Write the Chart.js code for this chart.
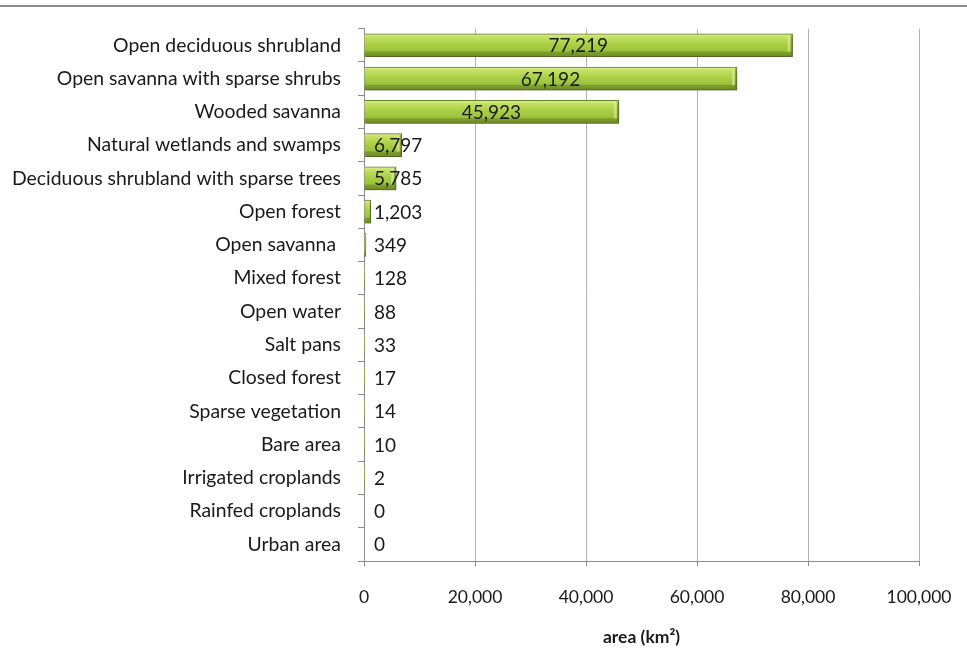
<!DOCTYPE html>
<html>
<head>
<meta charset="utf-8">
<script src="https://cdn.jsdelivr.net/npm/chart.js@4.4.1/dist/chart.umd.min.js"></script>
<style>
  html, body { margin: 0; padding: 0; background: #fff; }
  #wrap { position: relative; width: 967px; height: 650px; }
  #linea { position: absolute; left: 0; top: 5px; width: 967px; height: 2px; background: #8c8c8c; }
  #grafico { position: absolute; left: 0; top: 0; }
</style>
</head>
<body>
<div id="wrap">
  <div id="linea"></div>
  <canvas id="grafico" width="967" height="650"></canvas>
</div>
<script>
const coberturas = [
    'Open deciduous shrubland',
    'Open savanna with sparse shrubs',
    'Wooded savanna',
    'Natural wetlands and swamps',
    'Deciduous shrubland with sparse trees',
    'Open forest',
    'Open savanna ',
    'Mixed forest',
    'Open water',
    'Salt pans',
    'Closed forest',
    'Sparse vegetation',
    'Bare area',
    'Irrigated croplands',
    'Rainfed croplands',
    'Urban area'
];
const areas = [77219, 67192, 45923, 6797, 5785, 1203, 349, 128, 88, 33, 17, 14, 10, 2, 0, 0];
const ticksArea = [0, 20000, 40000, 60000, 80000, 100000];

const fuente = 'Lato, "Open Sans", sans-serif';
const GROSOR = 23;

// degradado verde de cada barra, de arriba hacia abajo
function colorBarra(context) {
    const chart = context.chart;
    const y = chart.scales.y;
    const yc = y ? y.getPixelForValue(context.dataIndex) : NaN;
    if (!Number.isFinite(yc)) return '#a8cc44';
    const g = chart.ctx.createLinearGradient(0, yc - GROSOR / 2, 0, yc + GROSOR / 2);
    g.addColorStop(0, '#e2f2a8');
    g.addColorStop(0.12, '#c6e266');
    g.addColorStop(0.45, '#abcf46');
    g.addColorStop(0.74, '#9cc23c');
    g.addColorStop(0.8, '#809f2e');
    g.addColorStop(1, '#6c8c24');
    return g;
}

// sombra suave bajo las barras
const sombra = {
    id: 'sombra',
    beforeDatasetsDraw(chart) {
        const ctx = chart.ctx;
        ctx.save();
        ctx.shadowColor = 'rgba(0,0,0,0.3)';
        ctx.shadowBlur = 4;
        ctx.shadowOffsetX = 2;
        ctx.shadowOffsetY = 2;
    },
    afterDatasetsDraw(chart) {
        chart.ctx.restore();
        // bisel claro en el extremo derecho de cada barra
        const ctx = chart.ctx;
        const x0 = chart.scales.x.getPixelForValue(0);
        ctx.save();
        chart.getDatasetMeta(0).data.forEach((bar) => {
            if (bar.x - x0 < 8) return;
            const top = bar.y - GROSOR / 2;
            ctx.fillStyle = 'rgba(225,242,160,0.55)';
            ctx.fillRect(bar.x - 5, top + 2, 3, GROSOR - 7);
            ctx.fillStyle = 'rgba(90,115,25,0.5)';
            ctx.fillRect(bar.x - 2, top + 1, 1.5, GROSOR - 2);
        });
        ctx.restore();
    }
};

// etiquetas de valor: centradas en la barra, o pegadas al eje si no caben
const etiquetas = {
    id: 'etiquetas',
    afterDraw(chart) {
        const ctx = chart.ctx;
        const meta = chart.getDatasetMeta(0);
        const x0 = chart.scales.x.getPixelForValue(0);
        ctx.save();
        ctx.font = '19px ' + fuente;
        ctx.fillStyle = '#1a1a1a';
        ctx.textAlign = 'center';
        ctx.textBaseline = 'middle';
        meta.data.forEach((bar, i) => {
            const txt = areas[i].toLocaleString('en-US');
            const w = ctx.measureText(txt).width;
            const centro = (x0 + bar.x) / 2;
            const x = Math.max(centro, x0 + 10 + w / 2);
            ctx.fillText(txt, x, bar.y + 1);
        });
        ctx.restore();
    }
};

new Chart(document.getElementById('grafico'), {
    type: 'bar',
    data: {
        labels: coberturas,
        datasets: [{
            data: areas,
            backgroundColor: colorBarra,
            borderColor: '#68882a',
            borderWidth: 1,
            borderSkipped: 'start',
            barThickness: GROSOR
        }]
    },
    options: {
        indexAxis: 'y',
        responsive: false,
        animation: false,
        layout: { padding: { top: 28, right: 48, left: 0, bottom: 0 } },
        plugins: {
            legend: { display: false },
            tooltip: { enabled: false }
        },
        scales: {
            x: {
                min: 0,
                max: 100000,
                afterBuildTicks: (scale) => { scale.ticks = ticksArea.map(v => ({ value: v })); },
                afterFit: (scale) => {
                    scale.height = 89;
                    scale.paddingLeft = 0;
                    scale.paddingRight = 0;
                },
                ticks: {
                    font: { family: fuente, size: 17.5 },
                    color: '#1a1a1a',
                    padding: 21,
                    maxRotation: 0,
                    callback: (v) => v.toLocaleString('en-US')
                },
                grid: { color: '#b4b4b4', lineWidth: 1, tickLength: 5, tickColor: '#8c8c8c' },
                border: { color: '#8c8c8c' },
                title: {
                    display: true,
                    text: 'area (km²)',
                    font: { family: fuente, size: 17.5, weight: 'bold' },
                    color: '#1a1a1a',
                    padding: { top: 4, bottom: 2 }
                }
            },
            y: {
                afterFit: (scale) => { scale.width = 364; },
                ticks: {
                    font: { family: fuente, size: 19.4 },
                    color: '#1a1a1a',
                    padding: 17
                },
                grid: {
                    offset: true,
                    drawOnChartArea: false,
                    tickLength: 6,
                    tickColor: '#8c8c8c'
                },
                border: { color: '#8c8c8c' }
            }
        }
    },
    plugins: [sombra, etiquetas]
});
</script>
</body>
</html>
